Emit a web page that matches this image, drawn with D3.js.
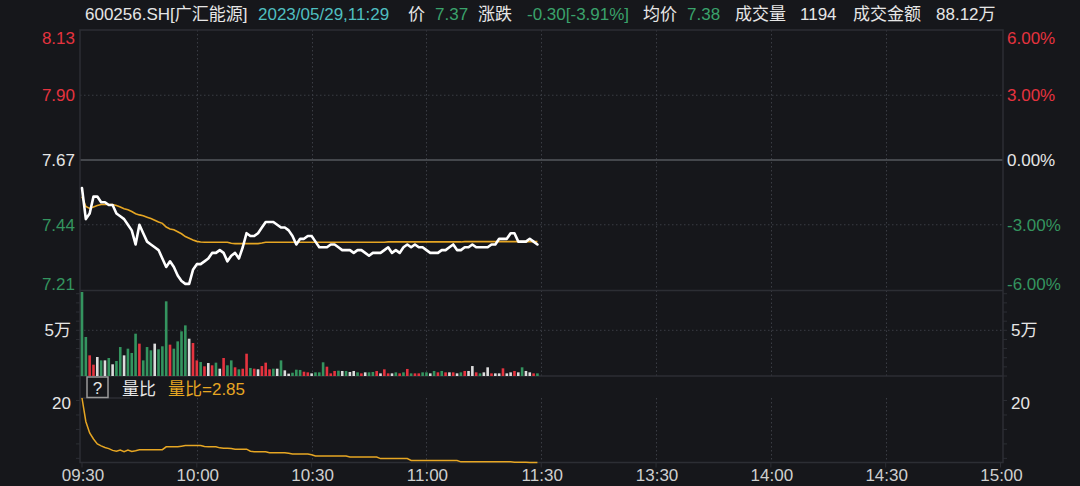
<!DOCTYPE html>
<html><head><meta charset="utf-8">
<script src="https://cdn.jsdelivr.net/npm/d3@7"></script>
<style>
html,body{margin:0;padding:0;background:#16171b;}
svg{display:block;}
text{font-family:"Liberation Sans","Noto Sans CJK SC",sans-serif;font-size:17px;}
</style></head><body>
<svg id="c" width="1080" height="486"></svg>
<script>
// ---------- data ----------
const timeTicks = [0, 30, 60, 90, 120, 150, 180, 210, 240];
const timeLabels = ["09:30","10:00","10:30","11:00","11:30","13:30","14:00","14:30","15:00"];
const prevClose = 7.67;
const priceTicks = [8.13, 7.90, 7.67, 7.44, 7.21];
const priceLabels = ["8.13","7.90","7.67","7.44","7.21"];
const pctLabels = ["6.00%","3.00%","0.00%","-3.00%","-6.00%"];
const volTickValue = 50000;
const volTickLabel = "5万";
const ratioTickValue = 20;
const ratioTickLabel = "20";

const prices = [
7.57,7.46,7.48,7.54,7.54,7.52,7.52,7.51,7.51,7.48,
7.47,7.46,7.44,7.42,7.37,7.44,7.41,7.38,7.37,7.36,
7.35,7.32,7.29,7.31,7.29,7.26,7.24,7.23,7.23,7.28,
7.30,7.30,7.31,7.32,7.34,7.34,7.35,7.34,7.31,7.33,
7.34,7.32,7.36,7.41,7.40,7.40,7.41,7.43,7.45,7.45,
7.45,7.44,7.43,7.43,7.42,7.40,7.37,7.39,7.39,7.40,
7.40,7.38,7.36,7.36,7.36,7.37,7.37,7.36,7.35,7.35,
7.35,7.34,7.35,7.35,7.34,7.33,7.34,7.34,7.34,7.35,
7.36,7.34,7.35,7.34,7.36,7.37,7.36,7.37,7.36,7.36,
7.35,7.34,7.34,7.34,7.35,7.35,7.36,7.37,7.35,7.35,
7.36,7.36,7.37,7.36,7.36,7.36,7.36,7.37,7.37,7.39,
7.39,7.39,7.41,7.41,7.38,7.38,7.38,7.39,7.38,7.37];

const avgPrices = [
7.540,7.505,7.498,7.503,7.508,7.512,7.512,7.512,7.512,7.508,
7.503,7.497,7.493,7.487,7.479,7.475,7.472,7.467,7.462,7.456,
7.450,7.445,7.432,7.425,7.422,7.415,7.408,7.398,7.392,7.386,
7.381,7.379,7.378,7.378,7.378,7.378,7.378,7.378,7.378,7.374,
7.373,7.373,7.373,7.373,7.373,7.373,7.373,7.375,7.378,7.378,
7.378,7.378,7.378,7.378,7.378,7.378,7.378,7.378,7.378,7.378,
7.378,7.378,7.378,7.378,7.378,7.378,7.378,7.378,7.378,7.378,
7.378,7.378,7.378,7.378,7.378,7.378,7.378,7.378,7.378,7.378,
7.379,7.379,7.379,7.379,7.379,7.379,7.379,7.379,7.379,7.379,
7.379,7.379,7.379,7.379,7.379,7.379,7.379,7.379,7.379,7.379,
7.380,7.380,7.380,7.380,7.380,7.380,7.380,7.380,7.380,7.380,
7.380,7.380,7.380,7.380,7.380,7.380,7.380,7.380,7.380,7.380];

const volumes = [
91900,42700,22600,12400,20800,17100,17100,19700,12800,16400,
31700,22600,29900,25200,46300,35400,17100,31700,28100,35400,
29200,32500,81700,34300,29900,37900,48900,55400,40800,36100,
17100,15300,10600,14200,11700,14600,8000,19700,11700,17100,
9500,7300,8000,24400,8800,8000,7300,10900,14600,7300,
8000,8000,17100,6200,2600,3600,6900,6600,4700,4000,
2900,4000,4000,15000,10200,2900,5500,5800,5500,5500,
4400,5500,4000,2900,4000,4000,4400,5500,2900,7300,
2900,2900,4000,2900,4000,7700,2900,2900,2900,4000,
4000,2900,5500,4000,5500,4000,4000,4000,2900,4000,
5500,5500,10900,4000,2900,4000,9500,2900,2900,2900,
8400,2900,4000,5500,4000,9500,5500,4000,2900,2900];

const volDirs = [
"g","g","r","r","w","g","w","g","w","g",
"g","w","g","g","g","r","g","g","g","w",
"g","g","g","r","g","g","g","g","w","r",
"r","g","r","w","r","g","w","r","g","g",
"r","g","r","r","g","r","w","r","r","r",
"g","w","g","w","w","g","g","g","r","r",
"w","g","g","g","r","r","r","g","w","g",
"w","w","g","r","w","g","g","r","w","r",
"r","w","g","r","g","r","g","r","r","g",
"g","w","g","r","g","r","w","r","w","g",
"r","w","w","r","g","w","w","r","w","w",
"r","w","w","r","w","g","w","w","r","g"];

const ratios = [
20.7,14.2,11.05,9.35,8.0,7.46,7.0,6.7,6.2,5.95,
6.3,5.85,6.3,5.9,6.1,6.4,6.4,6.4,6.4,6.4,
6.4,6.4,7.18,7.18,7.18,7.18,7.37,7.55,7.55,7.55,
7.55,7.55,7.27,7.18,7.18,7.18,6.9,6.8,6.8,6.7,
6.53,6.53,6.53,6.53,5.96,5.85,5.85,5.85,5.85,5.57,
5.57,5.57,5.57,5.57,5.38,5.2,5.2,5.2,5.2,5.2,
5.0,4.64,4.64,4.64,4.64,4.64,4.64,4.64,4.64,4.64,
4.35,4.35,4.35,4.35,4.35,4.35,4.35,4.35,3.93,3.93,
3.93,3.93,3.93,3.93,3.93,3.93,3.42,3.42,3.42,3.42,
3.42,3.42,3.42,3.42,3.42,3.42,3.42,3.42,3.42,3.03,
3.03,3.03,3.03,3.03,3.03,3.03,3.03,3.03,3.03,3.03,
3.03,3.03,3.03,2.95,2.93,2.91,2.90,2.88,2.86,2.85];

const header = [
  {t:"600256.SH[广汇能源]", k:"txt"}, {t:"2023/05/29,11:29", k:"time"},
  {t:"价", k:"txt"}, {t:"7.37", k:"dn"}, {t:"涨跌", k:"txt"}, {t:"-0.30[-3.91%]", k:"dn"},
  {t:"均价", k:"txt"}, {t:"7.38", k:"dn"}, {t:"成交量", k:"txt"}, {t:"1194", k:"txt"},
  {t:"成交金额", k:"txt"}, {t:"88.12万", k:"txt"}];
const headerX = [85,258,408,435,478,527,643,687,735,800,853,936];
const legendText = "量比";
const legendValue = "量比=2.85";

// ---------- style ----------
const C = {bg:"#16171b", frame:"#2c2e34", grid:"#3a3d44", zero:"#55585e",
  red:"#e5333f", green:"#34945f", white:"#dcdcdc", txt:"#e6e6e6", axis:"#cfcfcf",
  time:"#4fbfc0", orange:"#e6a623"};
const L = 80, R = 1003, pTop = 30, pBot = 290.5, vBot = 376, rTop = 398, rBot = 462.5;

const svg = d3.select("#c");
svg.append("rect").attr("width",1080).attr("height",486).attr("fill",C.bg);

const x = d3.scaleLinear().domain([0,240]).range([82,1000.5]);
const yP = d3.scaleLinear().domain([7.21,8.13]).range([289.5,30.5]);
const yV = d3.scaleLinear().domain([0,93000]).range([vBot,291]);
const yR = d3.scaleLinear().domain(d3.extent(ratios)).range([rBot,rTop]);

// grid
const g = svg.append("g");
[[pTop,pBot],[pBot,vBot],[rTop,rBot]].forEach(([a,b])=>{
  g.selectAll(null).data(timeTicks.slice(1,-1)).enter().append("line")
    .attr("x1",d=>Math.round(x(d))+0.5).attr("x2",d=>Math.round(x(d))+0.5)
    .attr("y1",a).attr("y2",b).attr("stroke",C.grid).attr("stroke-dasharray","1.5,2.5");
});
g.selectAll(null).data(priceTicks.filter((d,i)=>i===1||i===3)).enter().append("line")
  .attr("x1",L).attr("x2",R).attr("y1",d=>yP(d)).attr("y2",d=>yP(d))
  .attr("stroke",C.grid).attr("stroke-dasharray","1.5,2.5");
g.append("line").attr("x1",L).attr("x2",R).attr("y1",yV(volTickValue)).attr("y2",yV(volTickValue))
  .attr("stroke",C.grid).attr("stroke-dasharray","1.5,2.5");
g.append("line").attr("x1",L).attr("x2",R).attr("y1",yP(prevClose)).attr("y2",yP(prevClose))
  .attr("stroke",C.zero).attr("stroke-width",1.6);

// frame
g.append("rect").attr("x",L).attr("y",pTop).attr("width",R-L).attr("height",rBot-pTop)
  .attr("fill","none").attr("stroke",C.frame).attr("stroke-width",1.5);
[pBot,vBot].forEach(yy=>g.append("line").attr("x1",L).attr("x2",R).attr("y1",yy).attr("y2",yy)
  .attr("stroke",C.frame).attr("stroke-width",1.5));
g.append("line").attr("x1",L).attr("x2",130).attr("y1",rTop).attr("y2",rTop)
  .attr("stroke",C.frame).attr("stroke-width",1.5);

// minor ticks on volume and ratio panels
const volMinor = d3.range(0, 90001, 10000);
const ratioMinor = [4,8,12,16,20];
[[L,-4],[R,4]].forEach(([xx,dx])=>{
  g.selectAll(null).data(volMinor).enter().append("line")
    .attr("x1",xx).attr("x2",xx+dx).attr("y1",d=>yV(d)).attr("y2",d=>yV(d)).attr("stroke",C.frame);
  g.selectAll(null).data(ratioMinor).enter().append("line")
    .attr("x1",xx).attr("x2",xx+dx).attr("y1",d=>yR(d)).attr("y2",d=>yR(d)).attr("stroke",C.frame);
});
// x ticks
g.selectAll(null).data(timeTicks).enter().append("line")
  .attr("x1",d=>x(d)).attr("x2",d=>x(d)).attr("y1",rBot).attr("y2",rBot+5).attr("stroke",C.frame);

// volume bars
const colorOf = {g:C.green, r:C.red, w:C.white};
svg.append("g").selectAll("rect").data(volumes).enter().append("rect")
  .attr("x",(d,i)=>x(i)-1.3).attr("width",2.6)
  .attr("y",d=>yV(d)).attr("height",d=>vBot-yV(d))
  .attr("fill",(d,i)=>colorOf[volDirs[i]]);

// price lines
svg.append("path").datum(avgPrices)
  .attr("d",d3.line().x((d,i)=>x(i)).y(d=>yP(d)))
  .attr("fill","none").attr("stroke",C.orange).attr("stroke-width",1.6);
svg.append("path").datum(prices)
  .attr("d",d3.line().x((d,i)=>x(i)).y(d=>yP(d)))
  .attr("fill","none").attr("stroke","#ffffff").attr("stroke-width",2.6)
  .attr("stroke-linejoin","round").attr("stroke-linecap","round");

// ratio line
svg.append("path").datum(ratios)
  .attr("d",d3.line().x((d,i)=>x(i)).y(d=>yR(d)))
  .attr("fill","none").attr("stroke",C.orange).attr("stroke-width",1.5);

// axis labels
const lab = svg.append("g");
const pColor = (i)=> i<2 ? C.red : (i===2 ? C.txt : C.green);
priceTicks.forEach((v,i)=>{
  let base = yP(v)+6;
  if(i===0) base = pTop+14.3;
  if(i===priceTicks.length-1) base = pBot-1;
  lab.append("text").attr("x",75).attr("y",base).attr("text-anchor","end")
    .attr("fill",pColor(i)).text(priceLabels[i]);
  lab.append("text").attr("x",1007).attr("y",base).attr("text-anchor","start")
    .attr("fill",pColor(i)).text(pctLabels[i]);
});
[[71,"end"],[1011,"start"]].forEach(([xx,anc])=>{
  lab.append("text").attr("x",xx).attr("y",yV(volTickValue)+6).attr("text-anchor",anc)
    .attr("fill",C.txt).text(volTickLabel);
  lab.append("text").attr("x",xx).attr("y",yR(ratioTickValue)+8.5).attr("text-anchor",anc)
    .attr("fill",C.txt).text(ratioTickLabel);
});
timeTicks.forEach((t,i)=>{
  lab.append("text").attr("x",x(t)+1).attr("y",481).attr("text-anchor","middle")
    .attr("fill",C.axis).text(timeLabels[i]);
});

// legend
lab.append("rect").attr("x",87).attr("y",377).attr("width",21).attr("height",20.5)
  .attr("fill","none").attr("stroke","#9a9a9a").attr("stroke-width",1.5);
lab.append("text").attr("x",97.5).attr("y",394).attr("text-anchor","middle").attr("fill",C.txt).text("?");
lab.append("text").attr("x",122).attr("y",395).attr("fill",C.txt).text(legendText);
lab.append("text").attr("x",168).attr("y",395).attr("fill",C.orange).text(legendValue);

// header
const hc = {txt:C.txt, time:C.time, dn:"#3aa26b"};
header.forEach((h,i)=>{
  lab.append("text").attr("x",headerX[i]).attr("y",20).attr("fill",hc[h.k]).text(h.t);
});
</script>
</body></html>
